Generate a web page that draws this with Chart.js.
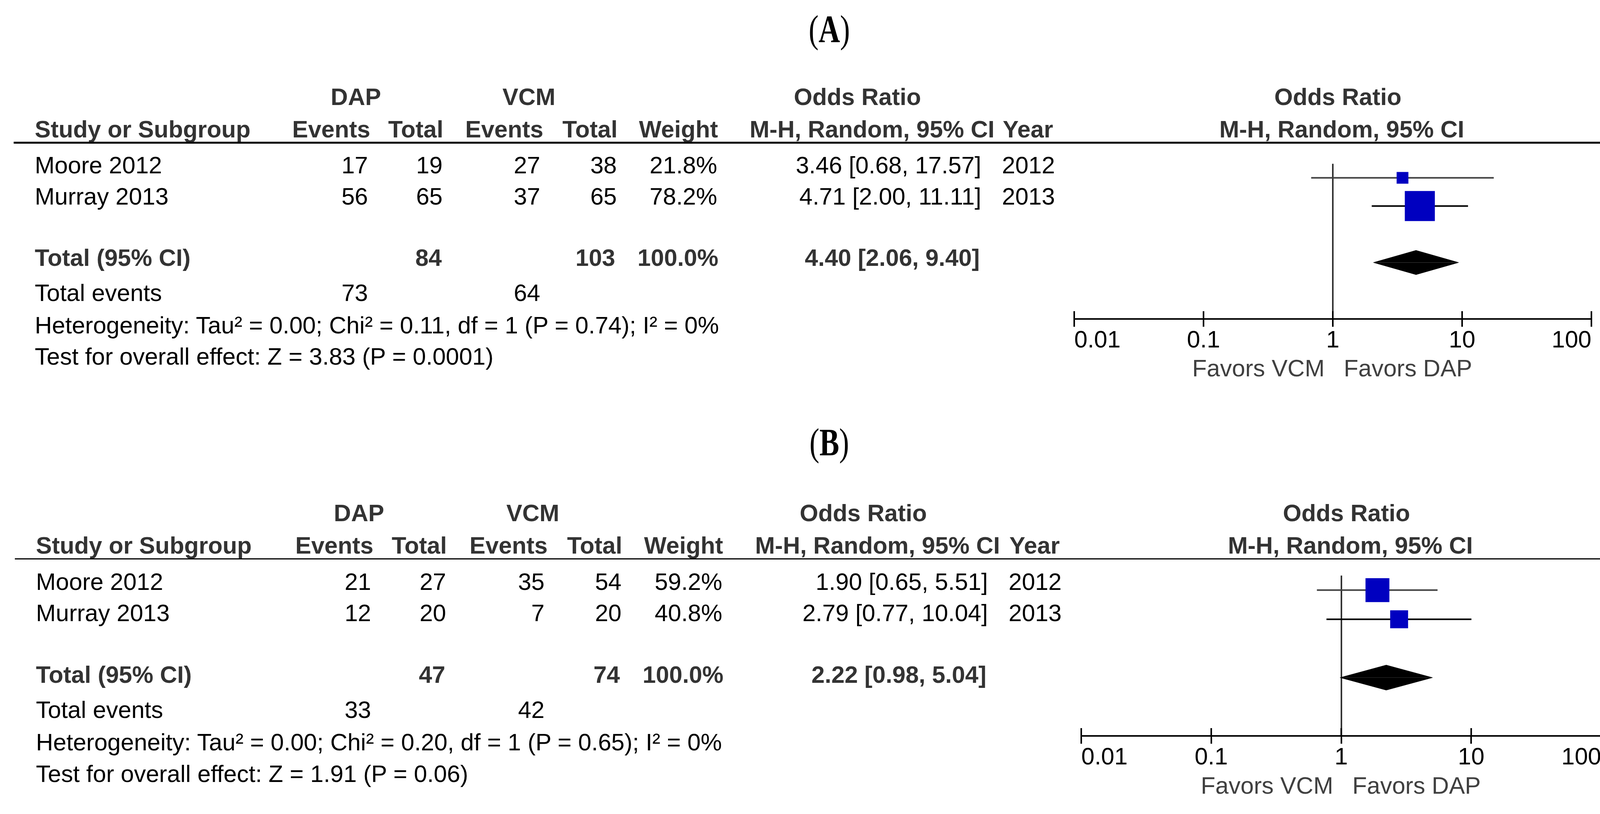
<!DOCTYPE html>
<html>
<head>
<meta charset="utf-8">
<title>DAP vs VCM forest plots</title>
<script src="https://cdn.jsdelivr.net/npm/chart.js"></script>
<style>
body { margin:0; background:#fff; }
#page { position:relative; width:4182px; height:2085px; overflow:hidden; background:#fff; }
.t { position:absolute; white-space:nowrap; font-family:"Liberation Sans", Arial, sans-serif; font-size:61px; line-height:61px; color:#000; }
.b { font-weight:bold; color:#333; }
.fav { color:#404040; }
.ttl { position:absolute; white-space:nowrap; font-family:"Liberation Serif", "Times New Roman", serif; font-size:76px; line-height:76px; color:#000; }
.rule { position:absolute; background:#000; }
canvas { position:absolute; }
</style>
</head>
<body>
<div id="page"></div>
<script>
// rows shared by both panels
let studies = ["Moore 2012", "Murray 2013"];
let years = [2012, 2013];

// panel A
let aDapEvents = [17, 56];
let aDapTotal = [19, 65];
let aVcmEvents = [27, 37];
let aVcmTotal = [38, 65];
let aWeight = [21.8, 78.2];
let aOR = [3.46, 4.71];
let aLow = [0.68, 2.00];
let aHigh = [17.57, 11.11];
let aPooled = [4.40, 2.06, 9.40];      // estimate, low, high
let aTotals = [84, 103];               // DAP total, VCM total
let aTotalEvents = [73, 64];
let aNotes = ["Heterogeneity: Tau² = 0.00; Chi² = 0.11, df = 1 (P = 0.74); I² = 0%",
              "Test for overall effect: Z = 3.83 (P = 0.0001)"];

// panel B
let bDapEvents = [21, 12];
let bDapTotal = [27, 20];
let bVcmEvents = [35, 7];
let bVcmTotal = [54, 20];
let bWeight = [59.2, 40.8];
let bOR = [1.90, 2.79];
let bLow = [0.65, 0.77];
let bHigh = [5.51, 10.04];
let bPooled = [2.22, 0.98, 5.04];
let bTotals = [47, 74];
let bTotalEvents = [33, 42];
let bNotes = ["Heterogeneity: Tau² = 0.00; Chi² = 0.20, df = 1 (P = 0.65); I² = 0%",
              "Test for overall effect: Z = 1.91 (P = 0.06)"];

// odds ratio axis
let tickVals = [0.01, 0.1, 1, 10, 100];
let tickLabels = ["0.01", "0.1", "1", "10", "100"];

Chart.defaults.font.family = "'Liberation Sans', Arial, sans-serif";

let page = document.getElementById("page");

function text(txt, x, y, anchor, cls) {
    let d = document.createElement("div");
    d.className = "t" + (cls ? " " + cls : "");
    d.textContent = txt;
    d.style.left = x + "px";
    d.style.top = y + "px";
    let tx = anchor == "r" ? "-100%" : (anchor == "c" ? "-50%" : "0");
    d.style.transform = "translate(" + tx + ",-50%)";
    page.appendChild(d);
    return d;
}

function title(letter, x, y) {
    let d = document.createElement("div");
    d.className = "ttl";
    d.innerHTML = "(<b>" + letter + "</b>)";
    d.style.left = x + "px";
    d.style.top = y + "px";
    d.style.transform = "translate(-50%,-50%) scaleY(1.3)";
    page.appendChild(d);
}

function rule(x1, x2, y, h) {
    let d = document.createElement("div");
    d.className = "rule";
    d.style.left = x1 + "px";
    d.style.width = (x2 - x1) + "px";
    d.style.top = (y - h / 2) + "px";
    d.style.height = h + "px";
    page.appendChild(d);
}

// tick marks above the axis line (Chart.js only draws them below)
let upTicks = {
    id: "upTicks",
    afterDraw: function(chart) {
        let s = chart.scales.x;
        let c = chart.ctx;
        c.save();
        c.strokeStyle = "#000";
        c.lineWidth = 4;
        for (let i = 0; i < s.ticks.length; i++) {
            let px = s.getPixelForValue(s.ticks[i].value);
            c.beginPath();
            c.moveTo(px, s.top);
            c.lineTo(px, s.top - 20);
            c.stroke();
        }
        c.restore();
    }
};

function fmt(v) { return v.toFixed(2); }

function panel(d, sx, ox, sy, oy, ruleW) {
    let X = function(x) { return Math.round(ox + sx * x); };
    let Y = function(y) { return Math.round(oy + sy * y); };

    // headers
    text("DAP", X(911), Y(248), "c", "b");
    text("VCM", X(1354), Y(248), "c", "b");
    text("Odds Ratio", X(2195), Y(248), "c", "b");
    text("Odds Ratio", X(3425), Y(248), "c", "b");
    text("Study or Subgroup", X(89), Y(331), "l", "b");
    text("Events", X(948), Y(331), "r", "b");
    text("Total", X(1135), Y(331), "r", "b");
    text("Events", X(1391), Y(331), "r", "b");
    text("Total", X(1581), Y(331), "r", "b");
    text("Weight", X(1838), Y(331), "r", "b");
    text("M-H, Random, 95% CI", X(1919), Y(331), "l", "b");
    text("Year", X(2567), Y(331), "l", "b");
    text("M-H, Random, 95% CI", X(3435), Y(331), "c", "b");
    rule(X(35), X(4130), Y(365), ruleW);

    // study rows
    let rowY = [423, 503];
    for (let i = 0; i < studies.length; i++) {
        let y = Y(rowY[i]);
        text(studies[i], X(89), y, "l");
        text(String(d.dapEvents[i]), X(942), y, "r");
        text(String(d.dapTotal[i]), X(1133), y, "r");
        text(String(d.vcmEvents[i]), X(1383), y, "r");
        text(String(d.vcmTotal[i]), X(1579), y, "r");
        text(d.weight[i].toFixed(1) + "%", X(1836), y, "r");
        text(fmt(d.or[i]) + " [" + fmt(d.low[i]) + ", " + fmt(d.high[i]) + "]", X(2512), y, "r");
        text(String(years[i]), X(2565), y, "l");
    }

    // pooled row
    text("Total (95% CI)", X(89), Y(660), "l", "b");
    text(String(d.totals[0]), X(1131), Y(660), "r", "b");
    text(String(d.totals[1]), X(1575), Y(660), "r", "b");
    text("100.0%", X(1839), Y(660), "r", "b");
    text(fmt(d.pooled[0]) + " [" + fmt(d.pooled[1]) + ", " + fmt(d.pooled[2]) + "]", X(2508), Y(660), "r", "b");

    text("Total events", X(89), Y(750), "l");
    text(String(d.totalEvents[0]), X(942), Y(750), "r");
    text(String(d.totalEvents[1]), X(1383), Y(750), "r");
    text(d.notes[0], X(89), Y(833), "l");
    text(d.notes[1], X(89), Y(913), "l");

    // forest plot
    let padL = 90, padR = 90, axisH = 110;
    let left = X(2750), right = X(4074), top = Y(365), bottom = Y(817);
    let cv = document.createElement("canvas");
    cv.width = (right - left) + padL + padR;
    cv.height = (bottom - top) + axisH;
    cv.style.left = (left - padL) + "px";
    cv.style.top = top + "px";
    page.appendChild(cv);

    let datasets = new Array();
    let ciColors = ["#404040", "#000000"];
    let sq = new Array();
    let sqR = new Array();
    for (let i = 0; i < studies.length; i++) {
        datasets.push({
            type: "line",
            data: [{x: d.low[i], y: i + 1}, {x: d.high[i], y: i + 1}],
            borderColor: ciColors[i],
            borderWidth: 4,
            pointRadius: 0,
            fill: false,
            order: 3
        });
        sq.push({x: d.or[i], y: i + 1});
        sqR.push((12 + 0.83 * d.weight[i]) / Math.SQRT2);
    }
    datasets.push({
        type: "scatter",
        data: sq,
        pointStyle: "rect",
        pointRadius: sqR,
        backgroundColor: "#0000c0",
        borderWidth: 0,
        order: 1
    });
    // pooled diamond, drawn as two halves filled to the row line
    let py = 4, ph = 0.43;
    let halves = [[{x: d.pooled[1], y: py}, {x: d.pooled[0], y: py - ph}, {x: d.pooled[2], y: py}],
                  [{x: d.pooled[1], y: py}, {x: d.pooled[0], y: py + ph}, {x: d.pooled[2], y: py}]];
    for (let h = 0; h < halves.length; h++) {
        datasets.push({
            type: "line",
            data: halves[h],
            borderColor: "#000",
            borderWidth: 1,
            backgroundColor: "#000",
            pointRadius: 0,
            fill: {value: py},
            order: 2
        });
    }

    let chart = new Chart(cv, {
        type: "scatter",
        data: { datasets: datasets },
        options: {
            responsive: false,
            animation: false,
            devicePixelRatio: 1,
            layout: { padding: { left: padL, right: padR, top: 0, bottom: 0 } },
            plugins: { legend: { display: false }, tooltip: { enabled: false } },
            scales: {
                x: {
                    type: "logarithmic",
                    position: "bottom",
                    min: 0.01,
                    max: 100,
                    afterBuildTicks: function(s) {
                        s.ticks = tickVals.map(function(v) { return {value: v}; });
                    },
                    afterFit: function(s) { s.height = axisH; },
                    border: { display: true, color: "#000", width: 4 },
                    grid: {
                        drawOnChartArea: true,
                        color: function(ctx) {
                            return (ctx.tick && ctx.tick.value === 1) ? "#333" : "rgba(0,0,0,0)";
                        },
                        lineWidth: 4,
                        drawTicks: true,
                        tickLength: 20,
                        tickWidth: 4,
                        tickColor: "#000"
                    },
                    ticks: {
                        align: "inner",
                        padding: 6,
                        autoSkip: false,
                        maxRotation: 0,
                        color: "#000",
                        font: { size: 61, lineHeight: 1 },
                        callback: function(v, i) { return tickLabels[i]; }
                    }
                },
                y: { type: "linear", display: false, min: 0.5, max: 6, reverse: true }
            }
        },
        plugins: [upTicks]
    });

    let p1 = (left - padL) + chart.scales.x.getPixelForValue(1);
    text("Favors VCM", Math.round(p1 - 21), Y(943), "r", "fav");
    text("Favors DAP", Math.round(p1 + 28), Y(943), "l", "fav");
}

title("A", 2123, 74);
title("B", 2123, 1132);

panel({
    dapEvents: aDapEvents, dapTotal: aDapTotal, vcmEvents: aVcmEvents, vcmTotal: aVcmTotal,
    weight: aWeight, or: aOR, low: aLow, high: aHigh, pooled: aPooled,
    totals: aTotals, totalEvents: aTotalEvents, notes: aNotes
}, 1, 0, 1, 0, 5);

panel({
    dapEvents: bDapEvents, dapTotal: bDapTotal, vcmEvents: bVcmEvents, vcmTotal: bVcmTotal,
    weight: bWeight, or: bOR, low: bLow, high: bHigh, pooled: bPooled,
    totals: bTotals, totalEvents: bTotalEvents, notes: bNotes
}, 1.0055, 3, 1.004, 1065, 3);
</script>
</body>
</html>
